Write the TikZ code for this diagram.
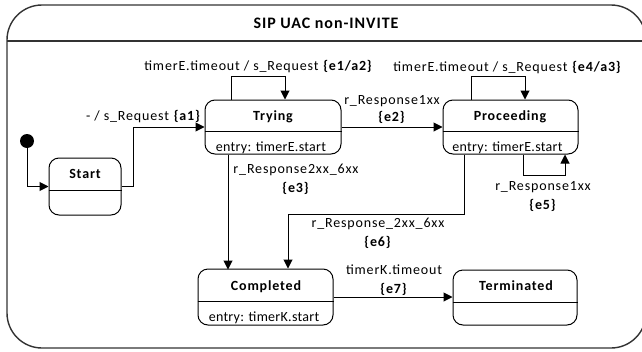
\documentclass[tikz,border=0pt]{standalone}
\usepackage{fontspec}
\setmainfont{Carlito}[LetterSpace=6]
\usetikzlibrary{arrows.meta}
\begin{document}
\begin{tikzpicture}[x=1pt,y=-1pt,
  statebox/.style={draw, line width=1pt, rounded corners=10pt, inner sep=0pt},
  sname/.style={inner sep=0pt, font=\fontsize{14}{17}\selectfont\bfseries},
  lbl/.style={inner sep=0pt, align=center, font=\fontsize{14}{19}\selectfont},
  entrytext/.style={inner sep=0pt, font=\fontsize{14}{17}\selectfont\addfontfeature{LetterSpace=2}},
  arr/.style={draw, line width=1pt, -{Triangle[length=9pt,width=9pt]}},
  frameline/.style={draw=black!80, line width=1.4pt}]
\useasboundingbox (0,0) rectangle (642,351);
\begin{scope}
  \clip (0,0) rectangle (642,351);
  % enclosing state machine frame
  \draw[frameline, rounded corners=35pt] (7,5) rectangle (646,348);
  \draw[frameline] (7,41) -- (646,41);
\end{scope}
\node[inner sep=0pt, font=\fontsize{16}{19}\selectfont\bfseries] (title) at (326,23) {SIP UAC non-INVITE};

% states
\node[statebox, minimum width=72pt, minimum height=57pt] (start) at (85,186.5) {};
\draw[line width=1pt] ([yshift=-3.5pt]start.west) -- ([yshift=-3.5pt]start.east);
\node[sname] (startname) at (85,174) {Start};

\node[statebox, minimum width=136pt, minimum height=54pt] (trying) at (273,127) {};
\draw[line width=1pt] ([yshift=-4.7pt]trying.west) -- ([yshift=-4.7pt]trying.east);
\node[sname] (tryingname) at (273,117) {Trying};
\node[entrytext] (tryingentry) at (271,148) {entry: timerE.start};

\node[statebox, minimum width=135pt, minimum height=54pt] (proceeding) at (510.5,127) {};
\draw[line width=1pt] ([yshift=-4.7pt]proceeding.west) -- ([yshift=-4.7pt]proceeding.east);
\node[sname] (proceedingname) at (510,117) {Proceeding};
\node[entrytext] (proceedingentry) at (507.5,148) {entry: timerE.start};

\node[statebox, minimum width=135pt, minimum height=56pt] (completed) at (265.5,297) {};
\draw[line width=1pt] ([yshift=-4pt]completed.west) -- ([yshift=-4pt]completed.east);
\node[sname] (completedname) at (266,287) {Completed};
\node[entrytext] (completedentry) at (264,318) {entry: timerK.start};

\node[statebox, minimum width=124pt, minimum height=55pt] (terminated) at (515,297.5) {};
\draw[line width=1pt] ([yshift=-4.5pt]terminated.west) -- ([yshift=-4.5pt]terminated.east);
\node[sname] (terminatedname) at (516,286) {Terminated};

% initial pseudostate
\node[circle, fill, minimum size=14pt, inner sep=0pt] (init) at (27,141) {};

% transitions
\draw[arr] (init) |- (start.west);
\draw[arr] (start.east) -- ++(12,0) |- (trying.west);
\draw[arr] ([xshift=-42pt]trying.north) -- ++(0,-23) -| ([xshift=12pt]trying.north);
\draw[arr] (trying.east) -- (proceeding.west);
\draw[arr] ([xshift=-39.5pt]proceeding.north) -- ++(0,-23) -| ([xshift=14.5pt]proceeding.north);
\draw[arr] ([xshift=12.5pt]proceeding.south) -- ++(0,21) -| ([xshift=54.5pt]proceeding.south);
\draw[arr] ([xshift=-45pt]trying.south) -- ++(0,115);
\draw[arr] ([xshift=-46.5pt]proceeding.south) -- ++(0,60) -| ([xshift=22.5pt]completed.north);
\draw[arr] (completed.east) -- (completed.east -| terminated.west);

% transition labels
\node[lbl, anchor=east] (la1) at (201,117) {- / s\_Request \textbf{\{a1\}}};
\node[lbl] (le1) at (258.5,67) {timerE.timeout / s\_Request \textbf{\{e1/a2\}}};
\node[lbl] (le4) at (507.5,68) {timerE.timeout / s\_Request \textbf{\{e4/a3\}}};
\node[lbl, font=\fontsize{14}{17}\selectfont] (le2) at (392,109.5) {r\_Response1xx\\\textbf{\{e2\}}};
\node[lbl] (le3) at (296,179.5) {r\_Response2xx\_6xx\\\textbf{\{e3\}}};
\node[lbl] (le5) at (543,196.7) {r\_Response1xx\\\textbf{\{e5\}}};
\node[lbl] (le6) at (378,233.5) {r\_Response\_2xx\_6xx\\\textbf{\{e6\}}};
\node[lbl] (le7) at (394,280.5) {timerK.timeout\\\textbf{\{e7\}}};
\end{tikzpicture}
\end{document}
